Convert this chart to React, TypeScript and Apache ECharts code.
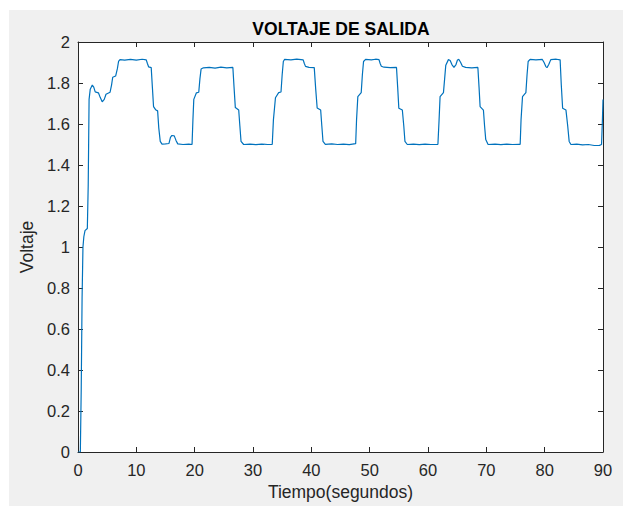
import React, { useEffect, useRef } from "react";
import * as echarts from "echarts";

const titulo = "VOLTAJE DE SALIDA";
const xNombre = "Tiempo(segundos)";
const yNombre = "Voltaje";

const tiempo = [
  0, 0.4, 0.55, 0.7, 0.85, 1.0, 1.2, 1.6, 1.75, 1.9, 2.1, 2.45, 2.7, 2.95, 3.5, 3.8, 4.15, 4.5, 4.8, 5.5,
  5.75, 5.95, 6.45, 6.75, 6.95, 7.2, 8.0, 9.0, 10.0, 11.0, 11.7, 11.9, 12.1, 12.55, 12.75, 12.95, 13.3, 13.65,
  13.85, 14.1, 14.4, 15.0, 15.6, 15.85, 16.1, 16.5, 16.8, 17.1, 18.0, 19.0, 19.55, 19.7, 19.85, 20.3, 20.7,
  20.9, 21.1, 21.5, 22.5, 23.5, 24.5, 25.5, 26.55, 26.75, 26.97, 27.55, 27.75, 27.95, 28.4, 29.5, 30.5, 31.5,
  32.5, 33.3, 33.5, 33.85, 34.4, 34.8, 35.0, 35.2, 35.4, 36.5, 37.5, 38.6, 38.8, 39.0, 39.6, 40.5, 40.75,
  41.0, 41.6, 41.8, 42.0, 42.4, 43.5, 44.5, 45.5, 46.5, 47.6, 47.75, 47.97, 48.55, 48.75, 48.95, 49.3, 50.3,
  51.0, 51.6, 51.8, 52.0, 52.45, 53.5, 54.6, 54.8, 55.0, 55.6, 55.85, 56.05, 56.45, 57.5, 58.5, 59.5, 60.5,
  61.7, 61.9, 62.07, 62.65, 62.85, 63.05, 63.5, 63.8, 64.1, 64.45, 64.8, 65.05, 65.3, 65.6, 65.9, 66.45, 67.5,
  68.55, 68.75, 68.93, 69.5, 69.7, 69.9, 70.3, 71.5, 72.5, 73.5, 74.5, 75.8, 75.95, 76.2, 76.78, 76.98, 77.17,
  77.5, 78.5, 79.6, 79.9, 80.2, 80.4, 80.7, 81.05, 82.0, 82.65, 82.85, 83.08, 83.65, 83.95, 84.2, 84.5, 85.5,
  86.5, 87.5, 88.5, 89.4, 89.75, 89.9, 90.0,
];

const voltaje = [
  0, 0, 0.3, 0.75, 1.0, 1.05, 1.08, 1.09, 1.3, 1.72, 1.77, 1.79, 1.78, 1.757, 1.752, 1.73, 1.708, 1.72, 1.745, 1.755,
  1.79, 1.828, 1.834, 1.87, 1.905, 1.914, 1.912, 1.915, 1.912, 1.916, 1.913, 1.895, 1.879, 1.875, 1.78, 1.685, 1.67, 1.664,
  1.58, 1.515, 1.502, 1.503, 1.505, 1.535, 1.544, 1.542, 1.52, 1.503, 1.5, 1.502, 1.5, 1.62, 1.72, 1.752, 1.755,
  1.82, 1.868, 1.874, 1.876, 1.873, 1.877, 1.874, 1.876, 1.78, 1.68, 1.668, 1.59, 1.515, 1.5, 1.502, 1.499, 1.502,
  1.5, 1.501, 1.62, 1.728, 1.753, 1.756, 1.84, 1.905, 1.915, 1.913, 1.916, 1.913, 1.895, 1.881, 1.876, 1.875, 1.77,
  1.678, 1.668, 1.59, 1.515, 1.501, 1.503, 1.5, 1.502, 1.499, 1.504, 1.62, 1.733, 1.753, 1.84, 1.905, 1.915, 1.913,
  1.916, 1.914, 1.895, 1.882, 1.877, 1.875, 1.876, 1.78, 1.677, 1.668, 1.59, 1.515, 1.5, 1.502, 1.499, 1.502, 1.5,
  1.501, 1.62, 1.733, 1.753, 1.82, 1.887, 1.914, 1.91, 1.89, 1.876, 1.89, 1.912, 1.915, 1.9, 1.882, 1.876, 1.874,
  1.876, 1.78, 1.685, 1.668, 1.59, 1.524, 1.5, 1.502, 1.499, 1.502, 1.5, 1.501, 1.62, 1.733, 1.753, 1.84, 1.905,
  1.915, 1.913, 1.915, 1.9, 1.88, 1.875, 1.89, 1.914, 1.916, 1.913, 1.79, 1.677, 1.668, 1.59, 1.515, 1.5, 1.502,
  1.498, 1.5, 1.495, 1.496, 1.5, 1.62, 1.72,
];

const xMin = 0;
const xMax = 90;
const xPaso = 10;
const yMin = 0;
const yMax = 2;
const yPaso = 0.2;

export default function App() {
  const ref = useRef<HTMLDivElement>(null);

  useEffect(() => {
    if (!ref.current) return;
    const chart = echarts.init(ref.current, null, { renderer: "svg" });
    const ink = "#262626";
    const font = "'Liberation Sans', Arial, Helvetica, sans-serif";
    const datos = tiempo.map((t, i) => [t, voltaje[i]]);
    const fmtY = (v: number) => String(Math.round(v * 10) / 10);

    const baseX = {
      type: "value" as const,
      min: xMin,
      max: xMax,
      interval: xPaso,
      splitLine: { show: false },
      axisLine: { show: true, onZero: false, lineStyle: { color: ink, width: 1 } },
      axisTick: { show: true, inside: true, length: 5, lineStyle: { color: ink } },
    };
    const baseY = {
      type: "value" as const,
      min: yMin,
      max: yMax,
      interval: yPaso,
      splitLine: { show: false },
      axisLine: { show: true, onZero: false, lineStyle: { color: ink, width: 1 } },
      axisTick: { show: true, inside: true, length: 5, lineStyle: { color: ink } },
    };

    chart.setOption({
      animation: false,
      backgroundColor: "#f0f0f0",
      grid: {
        left: 69,
        top: 32,
        right: 20,
        bottom: 52,
        show: true,
        backgroundColor: "#ffffff",
        borderWidth: 0,
      },
      graphic: [
        {
          type: "text",
          x: 332,
          y: 19,
          style: {
            text: titulo,
            fontSize: 17.5,
            fontWeight: "bold",
            fontFamily: font,
            fill: "#000000",
            textAlign: "center",
            textVerticalAlign: "middle",
          },
        },
      ],
      xAxis: [
        {
          ...baseX,
          position: "bottom",
          name: xNombre,
          nameLocation: "middle",
          nameGap: 31,
          nameTextStyle: { fontSize: 17.5, color: ink, fontFamily: font },
          axisLabel: { show: true, margin: 9, fontSize: 16.5, color: ink, fontFamily: font },
        },
        {
          ...baseX,
          position: "top",
          axisLabel: { show: false },
        },
      ],
      yAxis: [
        {
          ...baseY,
          position: "left",
          name: yNombre,
          nameLocation: "middle",
          nameGap: 37,
          nameTextStyle: { fontSize: 17.5, color: ink, fontFamily: font },
          axisLabel: { show: true, margin: 8, fontSize: 16.5, color: ink, fontFamily: font, formatter: fmtY },
        },
        {
          ...baseY,
          position: "right",
          axisLabel: { show: false },
        },
      ],
      series: [
        {
          type: "line",
          data: datos,
          xAxisIndex: 0,
          yAxisIndex: 0,
          showSymbol: false,
          symbol: "none",
          lineStyle: { color: "#0072BD", width: 1.2 },
        },
      ],
    });

    return () => chart.dispose();
  }, []);

  return (
    <div
      ref={ref}
      style={{ position: "fixed", left: 9, top: 10, width: 614, height: 496 }}
    />
  );
}
